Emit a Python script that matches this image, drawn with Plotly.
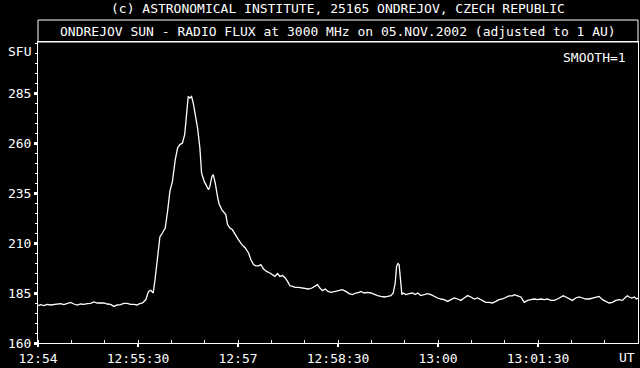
import pandas as pd
import plotly.graph_objects as go

start_time = "2002-11-05 12:54:00"

# seconds after 12:54:00 UT
seconds = [0, 2.3, 5.3, 8.3, 11.3, 14.3, 17.3, 20.3, 23.3, 26.3, 29.3, 32.3, 35.3, 38.3, 41.3,
           44.3, 47.3, 50.3, 53.3, 56.3, 59.3, 62.3, 65.3, 68.3, 71.3, 74.3, 77.3, 80.3, 83.3,
           86.3, 89.3,
           91, 94, 97, 99.5, 101.6, 103.7, 105.5, 107.6, 109.7, 112, 114.5, 116.6, 118.7, 121,
           123.5, 125.6, 127.7, 130, 132, 133.7, 135.2, 136.7, 138.2, 139.7, 141.5, 143.6,
           145.7, 147.2, 149.6, 151.7, 153.5, 154.7, 156.5, 157.7, 159.5, 161.6, 163,
           165.5, 167.6, 169, 170.6, 172.7, 175, 177.5, 180.5, 183.5, 186.5, 189.5, 191.6, 194,
           196, 198.5, 200.6, 203, 205.7, 208.7, 211, 213.2, 215.6, 217.7, 220, 222.5, 224.6,
           226.7, 229, 231.5, 234.5, 237.5, 240.5, 243.5, 246.5, 249.5, 251.6, 253.7, 256,
           258.5, 260.9, 263.9, 266.9, 269.9,
           271, 274, 277, 280, 283, 286, 289, 290.6, 293.6, 296.6, 299.6, 302.6, 305.6, 308.6,
           311.6, 314.6, 317.6, 319.7, 321.5, 322.7, 323.9, 325, 326.3, 327.5, 328.7, 331, 334,
           337, 339.5, 341.6, 344.6, 347.6, 350.6, 353.6, 356.6, 359.6, 362.6, 365.6, 368.6,
           371.6, 374.6, 377.6, 380.6, 383.6, 386.6, 389.6, 392.6, 395.6,
           400, 403, 406, 409, 412, 415, 418, 421, 424, 427, 428.6, 431.6, 434.6, 437.6, 440.6,
           443.6, 446.6, 449.6, 452.6, 455.6, 458.6, 461.6, 464.6, 467.6, 470.6, 472.7, 475,
           478, 481, 484, 487, 490, 493, 496, 499, 502, 505, 508, 511, 514, 517, 520, 523, 526,
           529, 530.6, 532, 534.5, 536.6, 538.7, 540]

# solar flux units
flux = [178.7, 179.2, 178.7, 179.3, 179.0, 179.3, 179.3, 179.7, 179.2, 179.7, 180.3, 179.5,
        179.0, 179.5, 179.3, 179.7, 179.8, 180.5, 180.0, 180.0, 180.0, 179.5, 179.3, 178.3,
        179.0, 179.2, 179.8, 179.8, 179.3, 179.3, 179.0,
        179.6, 180.0, 181.6, 185.8, 186.3, 185.0, 192.5, 204.0, 213.0, 215.0, 217.5, 225.8,
        235.8, 240.8, 251.6, 257.5, 259.2, 260.0, 264.2, 274.2, 283.3, 282.5, 283.3, 280.0,
        274.2, 267.5, 257.5, 245.0, 240.8, 238.3, 236.6, 238.3, 243.3, 244.2, 240.0, 233.0,
        229.5,
        226.6, 225.0, 224.2, 219.2, 217.5, 216.6, 214.2, 211.6, 209.2, 207.5, 205.0, 201.6,
        199.2, 198.6, 198.6, 199.2, 197.0, 195.8, 195.0, 194.2, 193.3, 194.7, 193.3, 193.7,
        192.5, 190.8, 188.6, 188.3, 187.8, 187.8, 187.5, 187.5, 187.0, 187.5, 188.3, 189.2,
        187.5, 186.2, 187.0, 185.8, 185.3, 185.8, 186.3,
        186.3, 186.7, 185.8, 184.7, 184.2, 185.0, 185.3, 185.8, 185.0, 185.3, 185.0, 184.2,
        183.7, 183.3, 183.0, 183.3, 183.7, 185.0, 190.0, 198.3, 199.7, 199.2, 191.7, 184.2,
        185.0, 184.2, 184.7, 185.0, 184.2, 185.0, 183.7, 184.2, 184.7, 184.2, 183.3, 182.5,
        182.0, 181.7, 180.8, 181.7, 182.5, 182.0, 181.3, 182.5, 183.7, 183.0, 182.0, 182.5,
        181.3, 180.3, 180.3, 180.0, 180.8, 181.7, 182.0, 183.0, 183.6, 183.6, 184.2, 183.6,
        183.0, 180.3, 181.3, 181.7, 182.0, 181.7, 182.0, 181.7, 182.0, 181.3, 181.3, 182.0,
        183.0, 183.6, 183.0, 182.0, 181.3, 182.5, 183.0, 182.5, 182.0, 182.0, 182.5, 183.0,
        183.3, 181.7, 180.8, 180.0, 180.3, 181.3, 181.7, 181.3, 183.0, 183.6, 183.0, 182.5,
        183.0, 182.0, 182.5]

x_tick_seconds = [0, 90, 180, 270, 360, 450]
x_tick_labels = ["12:54", "12:55:30", "12:57", "12:58:30", "13:00", "13:01:30"]
y_tick_values = [160, 185, 210, 235, 260, 285]
y_tick_labels = ["160", "185", "210", "235", "260", "285"]

base = pd.Timestamp(start_time)
times = base + pd.to_timedelta(seconds, unit="s")
x_ticks = base + pd.to_timedelta(x_tick_seconds, unit="s")
x_end = base + pd.to_timedelta(540, unit="s")

FONT = "DejaVu Sans Mono"
W = "#ffffff"

fig = go.Figure()
fig.add_trace(go.Scatter(x=times, y=flux, mode="lines",
                         line=dict(color=W, width=1.3), hoverinfo="skip"))

fig.update_layout(
    width=640, height=368,
    paper_bgcolor="black", plot_bgcolor="black",
    margin=dict(l=38, r=2, t=42, b=25),
    showlegend=False,
    font=dict(family=FONT, size=13, color=W),
    xaxis=dict(
        type="date", range=[base, x_end],
        showgrid=False, zeroline=False,
        showline=True, linecolor=W, linewidth=1, mirror=True,
        tickmode="array", tickvals=x_ticks, ticktext=x_tick_labels,
        ticks="outside", ticklen=3, tickwidth=2, tickcolor=W,
        tickfont=dict(family=FONT, size=13, color=W),
        minor=dict(ticks="inside", tick0=base, dtick=30000, ticklen=3,
                   tickwidth=1, tickcolor=W, showgrid=False),
    ),
    yaxis=dict(
        range=[160, 310.5],
        showgrid=False, zeroline=False,
        showline=True, linecolor=W, linewidth=1, mirror=True,
        tickmode="array", tickvals=y_tick_values, ticktext=y_tick_labels,
        ticks="outside", ticklen=3, tickwidth=3, tickcolor=W,
        tickfont=dict(family=FONT, size=13, color=W),
        minor=dict(ticks="outside", dtick=5, ticklen=2, tickwidth=1,
                   tickcolor=W, showgrid=False),
    ),
)

fig.add_shape(type="rect", xref="paper", yref="paper", x0=0, x1=1, y0=1, y1=1.073,
              line=dict(color=W, width=1))

ann = dict(showarrow=False, font=dict(family=FONT, size=13, color=W))
fig.add_annotation(text="(c) ASTRONOMICAL INSTITUTE, 25165 ONDREJOV, CZECH REPUBLIC",
                   xref="paper", yref="paper", x=0.5, y=1.11, xanchor="center",
                   yanchor="middle", **ann)
fig.add_annotation(text="ONDREJOV SUN - RADIO FLUX at 3000 MHz on 05.NOV.2002 (adjusted to 1 AU)",
                   xref="paper", yref="paper", x=0.5, y=1.0365, xanchor="center",
                   yanchor="middle", **ann)
fig.add_annotation(text="SFU", xref="paper", yref="paper", x=-0.009, y=0.967,
                   xanchor="right", yanchor="middle", **ann)
fig.add_annotation(text="SMOOTH=1", xref="paper", yref="paper", x=0.983, y=0.95,
                   xanchor="right", yanchor="middle", **ann)
fig.add_annotation(text="UT", xref="paper", yref="paper", x=0.982, y=-0.047,
                   xanchor="center", yanchor="middle", **ann)

fig.write_html("out.html")
